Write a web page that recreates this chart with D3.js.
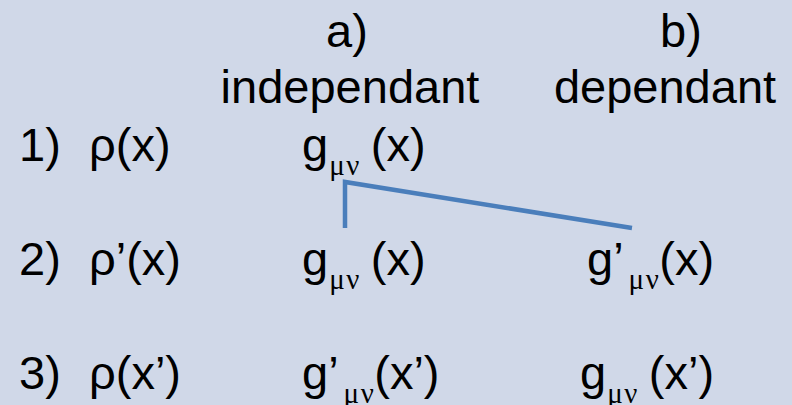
<!DOCTYPE html>
<html>
<head>
<meta charset="utf-8">
<script src="https://cdn.jsdelivr.net/npm/d3@7"></script>
<style>
  body { margin: 0; background: #d0d8e8; }
  svg { display: block; }
</style>
</head>
<body>
<div id="canvas"></div>
<script>
// table content
var rowLabels = ["1)", "2)", "3)"];
var rhoCells = ["ρ(x)", "ρ’(x)", "ρ(x’)"];
var colHeads = ["a)", "b)"];
var colNames = ["independant", "dependant"];
// g cells: [prime, arg, gap before arg]
var colA = [["", "(x)", true], ["", "(x)", true], ["’", "(x’)", false]];
var colB = [null, ["’", "(x)", false], ["", "(x’)", true]];

var width = 792, height = 405;
var svg = d3.select("#canvas").append("svg")
  .attr("width", width)
  .attr("height", height);

svg.append("rect").attr("width", width).attr("height", height).attr("fill", "#d0d8e8");

var font = "'Liberation Sans', Arial, sans-serif";
var fs = 47;

var y = d3.scalePoint().domain([0, 1, 2]).range([161, 389]);
var xCol = d3.scaleOrdinal().domain(["num", "rho", "a", "b"]).range([19, 89, 302, 587]);
var headX = d3.scaleOrdinal().domain(colNames).range([350, 665]);

var g = svg.append("g").attr("font-family", font).attr("font-size", fs).attr("fill", "#000");

// headers
g.selectAll(".head").data(colHeads).enter().append("text")
  .attr("x", function(d, i){ return headX(colNames[i]) + (i == 0 ? -3 : 16); })
  .attr("y", 47)
  .attr("text-anchor", "middle")
  .text(function(d){ return d; });
g.selectAll(".name").data(colNames).enter().append("text")
  .attr("x", function(d){ return headX(d); })
  .attr("y", 103)
  .attr("text-anchor", "middle")
  .text(function(d){ return d; });

g.selectAll(".num").data(rowLabels).enter().append("text")
  .attr("x", xCol("num")).attr("y", function(d, i){ return y(i); })
  .text(function(d){ return d; });
g.selectAll(".rho").data(rhoCells).enter().append("text")
  .attr("x", xCol("rho")).attr("y", function(d, i){ return y(i); })
  .text(function(d){ return d; });

function gCell(cells, col, shift) {
  cells.forEach(function(c, i){
    if (!c) return;
    var t = g.append("text").attr("x", xCol(col) + (shift[i] || 0)).attr("y", y(i));
    t.append("tspan").text("g" + c[0]);
    t.append("tspan").attr("font-family", "'Liberation Serif', 'Times New Roman', serif")
      .attr("font-size", 29).attr("dy", 14).attr("dx", c[0] ? 5 : 1)
      .attr("letter-spacing", 1.5).text("μν");
    t.append("tspan").attr("dy", -14).attr("dx", c[2] ? 10 : -1)
      .attr("letter-spacing", 0).text(c[1]);
  });
}
gCell(colA, "a", [0, 0, 0]);
gCell(colB, "b", [0, 0, -7]);

// connector lines
var lineGen = d3.line();
svg.append("path")
  .attr("d", lineGen([[345, 228], [345, 182], [632, 228]]))
  .attr("fill", "none")
  .attr("stroke", "#4a7ebb")
  .attr("stroke-width", 4.5);
</script>
</body>
</html>
